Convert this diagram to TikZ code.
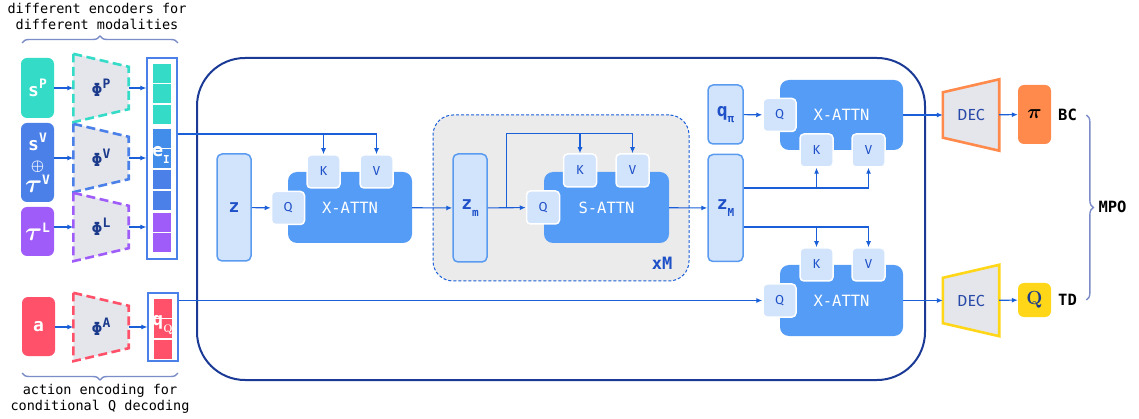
\RequirePackage{fix-cm}
\documentclass[tikz,border=0pt]{standalone}
\usepackage{amsmath}
\usepackage{graphicx}
\usepackage{fontspec}
\usetikzlibrary{arrows.meta,positioning,calc,backgrounds,decorations.pathreplacing}
\newfontfamily\plexmono{DejaVu Sans Mono}
\newfontfamily\plexsans{Fira Sans}
\definecolor{turq}{RGB}{52,220,200}
\definecolor{modblue}{RGB}{74,128,232}
\definecolor{modpurple}{RGB}{160,92,248}
\definecolor{actred}{RGB}{255,82,106}
\definecolor{encgrey}{RGB}{228,230,236}
\definecolor{navy}{RGB}{28,58,140}
\definecolor{attnblue}{RGB}{84,156,245}
\definecolor{tokfill}{RGB}{210,227,252}
\definecolor{tokdraw}{RGB}{90,155,240}
\definecolor{linkblue}{RGB}{26,95,216}
\definecolor{framenavy}{RGB}{26,58,150}
\definecolor{loopgrey}{RGB}{235,235,235}
\definecolor{decorange}{RGB}{255,138,76}
\definecolor{decyellow}{RGB}{255,214,24}
\definecolor{bracegrey}{RGB}{123,140,200}
\definecolor{txtblue}{RGB}{30,80,200}
\definecolor{decblue}{RGB}{42,74,168}
\newcommand\symfnt{\plexmono\bfseries\fontsize{18}{20}\selectfont}
\newcommand\notefnt{\plexmono\fontsize{13.5}{16}\selectfont}
\newcommand\tagfnt{\plexmono\bfseries\fontsize{15.5}{17}\selectfont}
\newcommand\attnfnt{\plexmono\fontsize{15.5}{17}\selectfont}
\newcommand\kvqfnt{\plexsans\fontsize{13}{15}\selectfont}
\newcommand\decfnt{\plexsans\fontsize{16}{18}\selectfont}
\newcommand\upidx[1]{\raisebox{.42em}{\fontsize{13}{13}\selectfont #1}}
\newcommand\loidx[1]{\raisebox{-.35em}{\fontsize{11}{11}\selectfont #1}}
\newcommand\tauglyph{\scalebox{1.45}{$\boldsymbol{\tau}$}}

\begin{document}
\begin{tikzpicture}[x=1pt, y=-1pt,
  modbox/.style={rounded corners=6pt, minimum width=33pt, inner sep=0pt, text=white, font=\symfnt, align=center},
  enc/.style={minimum width=55pt, minimum height=68pt, inner sep=0pt, text=navy, font=\symfnt},
  encline/.style={fill=encgrey, line width=2.6pt, dash pattern=on 9pt off 4.5pt},
  col/.style={draw=modblue, line width=1.2pt, fill=white, minimum width=30pt, inner sep=0pt},
  cell/.style={draw=white, line width=0.8pt, minimum width=19pt, minimum height=20pt, inner sep=0pt},
  tok/.style={draw=tokdraw, fill=tokfill, line width=1.5pt, rounded corners=5pt, minimum width=34pt, inner sep=0pt, text=txtblue, font=\symfnt},
  attn/.style={fill=attnblue, rounded corners=9pt, minimum width=124pt, minimum height=71pt, text=white, font=\attnfnt},
  kvq/.style={draw=white, fill=tokfill, line width=1.5pt, rounded corners=4pt, minimum width=33pt, minimum height=33pt, inner sep=0pt, text=txtblue, font=\kvqfnt},
  dec/.style={minimum width=56pt, minimum height=71pt, inner sep=0pt, text=decblue, font=\decfnt},
  decline/.style={fill=encgrey, line width=2.6pt},
  outbox/.style={rounded corners=6pt, minimum width=33pt, inner sep=0pt},
  arr/.style={draw=linkblue, line width=1.1pt, -{Latex[length=6pt,width=5pt]}},
  brc/.style={draw=bracegrey, line width=1.4pt, decorate, decoration={brace, amplitude=7pt}},
  note/.style={font=\notefnt, align=center},
  tag/.style={font=\tagfnt}
]
\useasboundingbox (0,0) rectangle (1139,419);

% modality inputs
\node[modbox, fill=turq, minimum height=60pt] (sP) at (37.5,88) {s\upidx{P}};
\node[modbox, fill=modblue, minimum height=79pt] (sV) at (37.5,162.5) {s\upidx{V}\\{\fontsize{15}{15}\selectfont$\boldsymbol{\oplus}$}\\[2pt]\tauglyph\upidx{V}};
\node[modbox, fill=modpurple, minimum height=49pt] (tL) at (37.5,231.5) {\tauglyph\upidx{L}};
\node[modbox, fill=actred, minimum height=59pt] (aA) at (38.5,326.5) {a};

% encoders
\node[enc] (phiP) at (101,88) {Φ\upidx{P}};
\node[enc] (phiV) at (101,158) {Φ\upidx{V}};
\node[enc] (phiL) at (101,227) {Φ\upidx{L}};
\node[enc] (phiA) at (101,327) {Φ\upidx{A}};
\begin{scope}[on background layer]
\draw[encline, draw=turq] (phiP.north west) -- ([yshift=-13pt]phiP.north east) -- ([yshift=13pt]phiP.south east) -- (phiP.south west) -- cycle;
\draw[encline, draw=modblue] (phiV.north west) -- ([yshift=-13pt]phiV.north east) -- ([yshift=13pt]phiV.south east) -- (phiV.south west) -- cycle;
\draw[encline, draw=modpurple] (phiL.north west) -- ([yshift=-13pt]phiL.north east) -- ([yshift=13pt]phiL.south east) -- (phiL.south west) -- cycle;
\draw[encline, draw=actred] (phiA.north west) -- ([yshift=-13pt]phiA.north east) -- ([yshift=13pt]phiA.south east) -- (phiA.south west) -- cycle;
\end{scope}

% token columns
\node[col, minimum height=201pt] (emb) at (162,158.5) {};
\node[cell, fill=turq] (p1) at (161.5,73) {};
\node[cell, fill=turq, below=0pt of p1] (p2) {};
\node[cell, fill=turq, below=0pt of p2] (p3) {};
\node[cell, fill=modblue!90!cyan] (v1) at (161.5,138) {};
\node[cell, fill=modblue!90!cyan, below=0pt of v1] (v2) {};
\node[cell, fill=modblue, below=0pt of v2] (v3) {};
\node[cell, fill=modblue, below=0pt of v3] (v4) {};
\node[cell, fill=modpurple] (l1) at (161.5,222) {};
\node[cell, fill=modpurple, below=0pt of l1] (l2) {};
\node[text=white, font=\symfnt] (eI) at (161,155) {e\loidx{I}};
\node[col, minimum height=68pt] (qcol) at (163,327) {};
\node[cell, fill=actred] (a1) at (162.5,308) {};
\node[cell, fill=actred, below=0pt of a1] (a2) {};
\node[cell, fill=actred, below=0pt of a2] (a3) {};
\node[text=white, font=\symfnt] (qQ) at (162.5,325) {q\loidx{\rmfamily\bfseries Q}};

% core
\node[draw=framenavy, line width=2pt, rounded corners=48pt, minimum width=728pt, minimum height=322pt] (body) at (561,219) {};
\node[draw=linkblue, fill=loopgrey, line width=1pt, dash pattern=on 3pt off 2pt, rounded corners=20pt, minimum width=256pt, minimum height=166pt] (loop) at (561,198) {};
\node[tag, text=txtblue, font=\plexmono\bfseries\fontsize{17}{19}\selectfont] (xM) at (662,263) {xM};

\node[tok, minimum height=107pt] (z) at (234,207.5) {z};
\node[attn] (xa1) at (350,207.5) {X-ATTN};
\node[kvq] (xa1Q) at (288,208) {Q};
\node[kvq] (xa1K) at (323.5,171.5) {K};
\node[kvq] (xa1V) at (376.5,171.5) {V};

\node[tok, minimum height=108pt] (zm) at (470,208) {z\loidx{m}};
\node[attn, minimum width=125pt] (sa) at (606.5,207.5) {S-ATTN};
\node[kvq] (saQ) at (543,207.5) {Q};
\node[kvq] (saK) at (580,170.5) {K};
\node[kvq] (saV) at (632.5,170.5) {V};

\node[tok, minimum width=35pt, minimum height=107pt] (zM) at (725.5,208) {z\loidx{M}};
\node[tok, minimum width=35pt, minimum height=59pt] (qpi) at (725.5,114.5) {q\loidx{π}};

\node[attn, minimum width=123pt, minimum height=70pt] (xa2) at (841.5,115) {X-ATTN};
\node[kvq] (xa2Q) at (779.5,115) {Q};
\node[kvq] (xa2K) at (816.5,150.5) {K};
\node[kvq] (xa2V) at (868.5,150.5) {V};

\node[attn, minimum width=123pt] (xa3) at (841.5,300.5) {X-ATTN};
\node[kvq] (xa3Q) at (779.5,300.5) {Q};
\node[kvq] (xa3K) at (816.5,264.5) {K};
\node[kvq] (xa3V) at (868.5,264.5) {V};

% decoders and outputs
\node[dec] (dec1) at (971,115) {DEC};
\node[dec] (dec2) at (971,300.5) {DEC};
\begin{scope}[on background layer]
\draw[decline, draw=decorange] ([yshift=-13pt]dec1.north west) -- (dec1.north east) -- (dec1.south east) -- ([yshift=13pt]dec1.south west) -- cycle;
\draw[decline, draw=decyellow] ([yshift=-13pt]dec2.north west) -- (dec2.north east) -- (dec2.south east) -- ([yshift=13pt]dec2.south west) -- cycle;
\end{scope}
\node[outbox, fill=decorange, minimum height=59pt, font=\fontsize{20}{22}\selectfont] (pi) at (1034.5,114.5) {$\boldsymbol{\pi}$};
\node[outbox, fill=decyellow, minimum height=34pt, text=navy, font=\rmfamily\bfseries\fontsize{19}{20}\selectfont] (Qout) at (1034.5,300) {Q};
\node[tag] (bc) at (1067.5,115) {BC};
\node[tag] (td) at (1067.5,300) {TD};
\node[tag] (mpo) at (1112.5,207) {MPO};

% notes
\node[note] (topnote) at (97,16) {different encoders for\\different modalities};
\node[note] (botnote) at (100,399) {action encoding for\\conditional Q decoding};
\coordinate (tbl) at (22,43);
\coordinate (tbr) at (178,43);
\coordinate (bbl) at (22,373);
\coordinate (bbr) at (178,373);
\draw[brc] (tbl) -- (tbr);
\draw[brc] (bbr) -- (bbl);
\draw[brc] ([xshift=6pt]bc.east) -- ([xshift=6pt]td.east);

% connectors
\draw[arr] (sP.east |- phiP) -- (phiP);
\draw[arr] (sV.east |- phiV) -- (phiV);
\draw[arr] (tL.east |- phiL) -- (phiL);
\draw[arr] (aA.east |- phiA) -- (phiA);
\draw[arr] (phiP) -- (phiP -| emb.west);
\draw[arr] (phiV) -- (phiV -| emb.west);
\draw[arr] (phiL) -- (phiL -| emb.west);
\draw[arr] (phiA) -- (qcol);

\coordinate (ekv) at ([yshift=24.5pt]emb.east);
\draw[arr] (ekv) -| (xa1V);
\draw[arr] (ekv -| xa1K) -- (xa1K);
\draw[arr] (qcol.east |- xa3Q) -- (xa3Q);
\draw[arr] (z) -- (xa1Q);
\draw[arr] (xa1) -- (zm);

\coordinate (sabr) at ($(zm.east)!.5!(saQ.west)$);
\coordinate (satop) at ([yshift=20pt]saV.north);
\draw[arr] (zm) -- (saQ);
\draw[arr] (sabr) |- (satop) -- (saV);
\draw[arr] (saK |- satop) -- (saK);
\draw[arr] (sa) -- (zM);

\draw[arr] (qpi) -- (xa2Q);
\coordinate (zMup) at ([yshift=20pt]zM.east);
\coordinate (zMdn) at ([yshift=-19pt]zM.east);
\draw[arr] (zMup) -| (xa2V);
\draw[arr] (zMup -| xa2K) -- (xa2K);
\draw[arr] (zMdn) -| (xa3V);
\draw[arr] (zMdn -| xa3K) -- (xa3K);

\draw[arr] (xa2) -- (dec1);
\draw[arr] (xa3) -- (dec2);
\draw[arr] (dec1) -- (pi);
\draw[arr] (dec2) -- (Qout);
\end{tikzpicture}
\end{document}
